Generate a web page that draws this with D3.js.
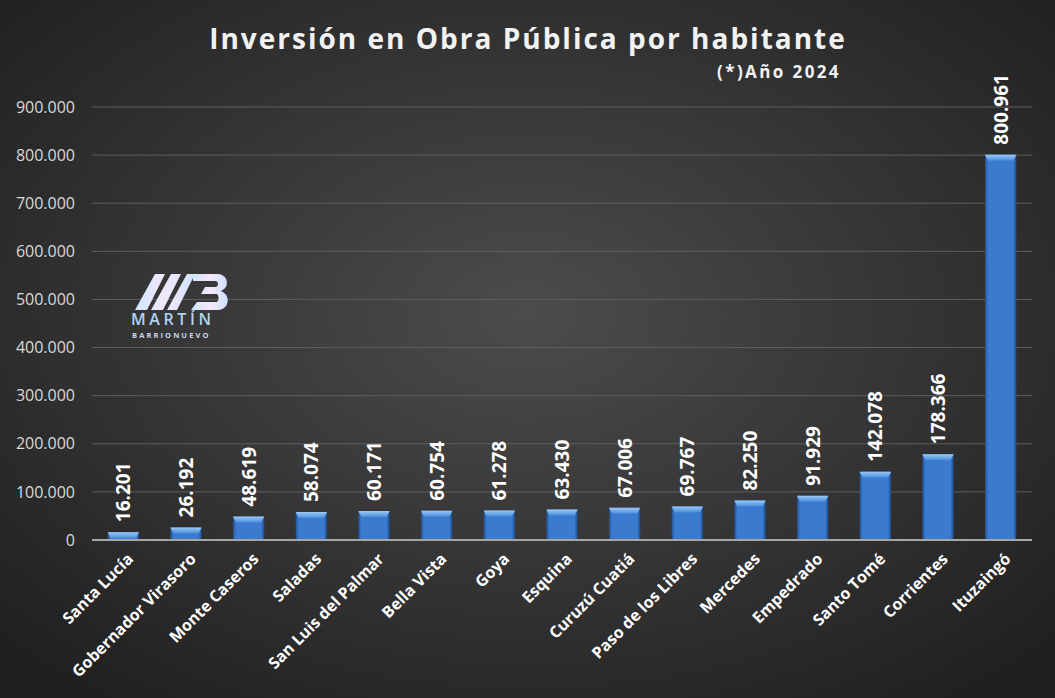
<!DOCTYPE html>
<html>
<head>
<meta charset="utf-8">
<script src="https://cdn.jsdelivr.net/npm/d3@7"></script>
<style>
  html, body { margin: 0; padding: 0; background: #2b2b2b; }
  svg { display: block; }
</style>
</head>
<body>
<svg id="chart"></svg>
<script>
var localidades = ["Santa Lucía", "Gobernador Virasoro", "Monte Caseros", "Saladas",
    "San Luis del Palmar", "Bella Vista", "Goya", "Esquina", "Curuzú Cuatiá",
    "Paso de los Libres", "Mercedes", "Empedrado", "Santo Tomé", "Corrientes", "Ituzaingó"];
var inversion = [16201, 26192, 48619, 58074, 60171, 60754, 61278, 63430, 67006,
    69767, 82250, 91929, 142078, 178366, 800961];
var yTicks = [0, 100000, 200000, 300000, 400000, 500000, 600000, 700000, 800000, 900000];

var width = 1055, height = 698;
var margin = {top: 107, right: 23, bottom: 158, left: 92};

var svg = d3.select("#chart").attr("width", width).attr("height", height);
var defs = svg.append("defs");

// background: dark radial glow
var bg = defs.append("radialGradient").attr("id", "bg")
    .attr("cx", "50%").attr("cy", "45%").attr("r", "70%");
bg.append("stop").attr("offset", "0%").attr("stop-color", "#4c4c4c");
bg.append("stop").attr("offset", "100%").attr("stop-color", "#1f1f1f");
svg.append("rect").attr("width", width).attr("height", height).attr("fill", "url(#bg)");

// bar body gradient
var barGrad = defs.append("linearGradient").attr("id", "barGrad")
    .attr("x1", "0").attr("x2", "1").attr("y1", "0").attr("y2", "0");
barGrad.append("stop").attr("offset", "0%").attr("stop-color", "#23508c");
barGrad.append("stop").attr("offset", "10%").attr("stop-color", "#3a7bd0");
barGrad.append("stop").attr("offset", "90%").attr("stop-color", "#3a7bd0");
barGrad.append("stop").attr("offset", "100%").attr("stop-color", "#1f4a85");
var topGrad = defs.append("linearGradient").attr("id", "topGrad")
    .attr("x1", "0").attr("x2", "0").attr("y1", "0").attr("y2", "1");
topGrad.append("stop").attr("offset", "0%").attr("stop-color", "#9cc9f7");
topGrad.append("stop").attr("offset", "100%").attr("stop-color", "#4a8ddc");

var x = d3.scaleBand().domain(localidades)
    .range([margin.left, width - margin.right]).paddingInner(0.5).paddingOuter(0.25);
var y = d3.scaleLinear().domain([0, 900000]).range([height - margin.bottom, margin.top]);

var fmt = function(v) { return d3.format(",")(v).replace(/,/g, "."); };

// gridlines
svg.append("g").selectAll("line").data(yTicks.slice(1)).join("line")
    .attr("x1", margin.left).attr("x2", width - margin.right)
    .attr("y1", function(d) { return y(d); }).attr("y2", function(d) { return y(d); })
    .attr("stroke", "#5e5e5e").attr("stroke-width", 1);

// y axis labels
var yAxis = d3.axisLeft(y).tickValues(yTicks).tickFormat(fmt).tickSize(0).tickPadding(17);
var yg = svg.append("g").attr("transform", "translate(" + margin.left + ",0)").call(yAxis);
yg.select(".domain").remove();
yg.selectAll("text").attr("fill", "#d9d9d9")
    .style("font-family", "'Open Sans', sans-serif").style("font-size", "16px");

// bars
var bev = 6;
var bars = svg.append("g").selectAll("g").data(localidades).join("g");
bars.append("rect")
    .attr("x", function(d) { return x(d); })
    .attr("y", function(d, i) { return y(inversion[i]); })
    .attr("width", x.bandwidth())
    .attr("height", function(d, i) { return y(0) - y(inversion[i]); })
    .attr("fill", "url(#barGrad)");
bars.append("path")
    .attr("d", function(d, i) {
        var x0 = x(d), x1 = x(d) + x.bandwidth(), yt = y(inversion[i]);
        return "M" + x0 + "," + yt + "L" + x1 + "," + yt + "L" + (x1 - 3) + "," + (yt + bev) +
            "L" + (x0 + 3) + "," + (yt + bev) + "Z";
    })
    .attr("fill", "url(#topGrad)");

// baseline
svg.append("line").attr("x1", margin.left).attr("x2", width - margin.right)
    .attr("y1", y(0)).attr("y2", y(0)).attr("stroke", "#a6a6a6").attr("stroke-width", 2);

// value labels
svg.append("g").selectAll("text").data(localidades).join("text")
    .attr("transform", function(d, i) {
        return "translate(" + (x(d) + x.bandwidth() / 2 + 7) + "," + (y(inversion[i]) - 10) + ") rotate(-90)";
    })
    .attr("fill", "#ffffff")
    .style("font-family", "'Open Sans', sans-serif").style("font-size", "19px").style("font-weight", "bold")
    .text(function(d, i) { return fmt(inversion[i]); });

// category labels
svg.append("g").selectAll("text").data(localidades).join("text")
    .attr("transform", function(d) {
        return "translate(" + (x(d) + x.bandwidth() / 2 + 11) + "," + (y(0) + 20) + ") rotate(-45)";
    })
    .attr("text-anchor", "end")
    .attr("fill", "#ffffff")
    .style("font-family", "'Open Sans', sans-serif").style("font-size", "16px").style("font-weight", "bold")
    .text(function(d) { return d; });

// title
svg.append("text").attr("x", 528).attr("y", 49).attr("text-anchor", "middle")
    .attr("fill", "#f2f2f2")
    .style("font-family", "'Open Sans', sans-serif").style("font-size", "28px").style("font-weight", "bold")
    .style("letter-spacing", "2px")
    .text("Inversión en Obra Pública por habitante");
svg.append("text").attr("x", 841).attr("y", 78).attr("text-anchor", "end")
    .attr("fill", "#f2f2f2")
    .style("font-family", "'Open Sans', sans-serif").style("font-size", "17px").style("font-weight", "bold")
    .style("letter-spacing", "2.4px")
    .text("(*)Año 2024");

// logo
var lg = defs.append("linearGradient").attr("id", "logoGrad")
    .attr("x1", "0").attr("x2", "1").attr("y1", "0").attr("y2", "0");
lg.append("stop").attr("offset", "0%").attr("stop-color", "#cfe6ff");
lg.append("stop").attr("offset", "50%").attr("stop-color", "#f3e6fb");
lg.append("stop").attr("offset", "100%").attr("stop-color", "#cfe3ff");
var logo = svg.append("g").attr("transform", "translate(131,270)");
logo.append("path")
    .attr("d", "M4,40 L24,4 L34,4 L16,40 Z M20,40 L40,4 L50,4 L32,40 Z M36,40 L56,4 L64,4 L46,40 Z")
    .attr("fill", "url(#logoGrad)");
logo.append("path")
    .attr("d", "M62,4 L88,4 A10,9 0 0 1 90,21 A11,10 0 0 1 88,40 L60,40 L66,32 L86,32 A4,5 0 0 0 86,24 L70,24 L74,17 L84,17 A3,3 0 0 0 84,11 L62,11 Z")
    .attr("fill", "url(#logoGrad)");
logo.append("text").attr("x", 0).attr("y", 55).attr("fill", "#b2d2f4")
    .style("font-family", "'Open Sans', sans-serif").style("font-size", "16px").style("font-weight", "600")
    .style("letter-spacing", "3.6px").text("MARTÍN");
logo.append("text").attr("x", 1).attr("y", 68).attr("fill", "#c9d6e6")
    .style("font-family", "'Open Sans', sans-serif").style("font-size", "7.5px").style("font-weight", "bold")
    .style("letter-spacing", "2.1px").text("BARRIONUEVO");
</script>
</body>
</html>
